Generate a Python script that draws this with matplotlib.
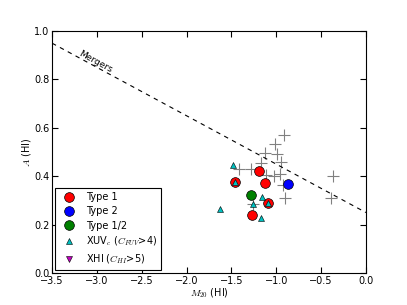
"""A(HI) vs M20(HI) with merger criterion"""

import numpy as np
import matplotlib
matplotlib.use("Agg")
import matplotlib.pyplot as plt

plt.rcParams["mathtext.fontset"] = "cm"

# galaxies not classified (grey crosses)
other_m20 = [-0.917, -1.014, -1.122, -0.995, -1.173, -0.950, -1.419, -1.285,
             -1.025, -0.958, -0.928, -0.899, -0.364, -0.393, -1.263, -1.114]
other_a = [0.570, 0.532, 0.496, 0.490, 0.453, 0.457, 0.428, 0.431,
           0.402, 0.410, 0.364, 0.309, 0.401, 0.311, 0.285, 0.405]

type1_m20 = [-1.192, -1.122, -1.463, -1.089, -1.267]
type1_a = [0.423, 0.372, 0.377, 0.290, 0.238]

type2_m20 = [-0.869]
type2_a = [0.369]

type12_m20 = [-1.281]
type12_a = [0.324]

xuv_m20 = [-1.482, -1.463, -1.159, -1.259, -1.089, -1.173, -1.627]
xuv_a = [0.445, 0.377, 0.315, 0.286, 0.290, 0.226, 0.266]

xhi_m20 = []
xhi_a = []


def merger_line(m20):
    return -0.2 * m20 + 0.25


def main():
    fig = plt.figure(figsize=(4.07, 3.05), dpi=100)
    ax = fig.add_axes([0.128, 0.105, 0.771, 0.793])

    ax.plot(other_m20, other_a, "+", color="0.5", ms=8, mew=0.8, zorder=2)
    ax.plot(type1_m20, type1_a, "o", color="red", mec="k", mew=0.5, ms=7,
            label="Type 1", zorder=3)
    ax.plot(type2_m20, type2_a, "o", color="blue", mec="k", mew=0.5, ms=7,
            label="Type 2", zorder=3)
    ax.plot(type12_m20, type12_a, "o", color="green", mec="k", mew=0.5, ms=7,
            label="Type 1/2", zorder=3)
    ax.plot(xuv_m20, xuv_a, "^", color="c", mec="k", mew=0.4, ms=4.5,
            label=r"XUV$_c$ ($C_{FUV}$>4)", zorder=4)
    ax.plot(xhi_m20, xhi_a, "v", color="m", mec="k", mew=0.4, ms=4.5,
            label=r"XHI ($C_{HI}$>5)", zorder=4)

    xx = np.array([-3.5, 0.0])
    ax.plot(xx, merger_line(xx), "k--", lw=0.8, dashes=(4, 4))
    ax.text(-3.02, 0.872, "Mergers", rotation=-28.4, fontsize=6.5,
            ha="center", va="center")

    ax.set_xlim(-3.5, 0.0)
    ax.set_ylim(0.0, 1.0)
    ax.set_xlabel(r"$M_{20}$ (HI)", fontsize=7, labelpad=1)
    ax.set_ylabel(r"$A$ (HI)", fontsize=7, labelpad=1)
    ax.tick_params(direction="in", top=True, right=True, labelsize=7,
                   length=4, pad=2)

    leg = ax.legend(loc="lower left", numpoints=1, fontsize=7,
                    fancybox=False, framealpha=1, borderaxespad=0.3,
                    handletextpad=0.8, labelspacing=0.45)
    leg.get_frame().set_edgecolor("k")
    leg.get_frame().set_linewidth(0.8)

    fig.savefig("out.png", dpi=100)


if __name__ == "__main__":
    main()
